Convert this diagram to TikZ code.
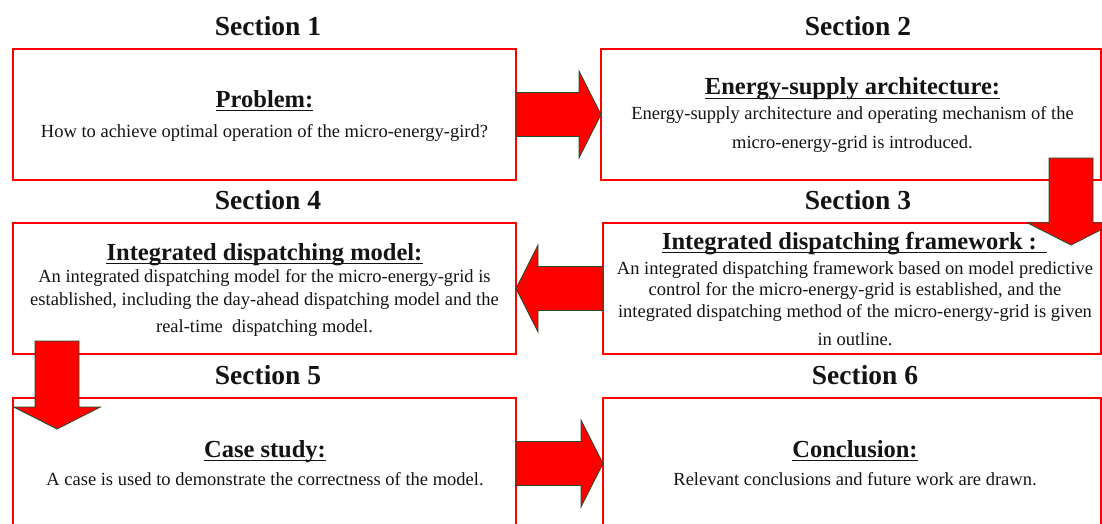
\documentclass[tikz,border=0pt]{standalone}
\usepackage{fontspec}
\setmainfont{Liberation Serif}
\usetikzlibrary{calc}
\definecolor{boxred}{RGB}{255,0,0}
\definecolor{arrowfill}{RGB}{255,0,0}
\definecolor{arrowedge}{RGB}{30,80,45}
\definecolor{txt}{RGB}{20,20,20}
\tikzset{
  secbox/.style={draw=boxred, line width=1.4pt, fill=white, minimum width=#1, minimum height=131pt, anchor=north west, inner sep=0pt, outer sep=0pt},
  sectitle/.style={font=\fontsize{27.5}{30}\selectfont\bfseries, anchor=base, inner sep=0pt, text=txt},
  boxtitle/.style={font=\fontsize{24.5}{27}\selectfont\bfseries, anchor=base, inner sep=0pt, text=txt},
  bodyline/.style={font=\fontsize{18.5}{21}\selectfont, anchor=base, inner sep=0pt, text=txt},
  ulline/.style={line width=1.4pt, draw=txt},
  blockarrow/.style={fill=arrowfill, draw=arrowedge, line width=0.8pt, line join=miter}
}
\newcommand{\blockarr}[2]{%
  \coordinate (tmpC) at ($(#2)!22pt!(#1)$);
  \draw[blockarrow] ($(#1)!22pt!90:(#2)$) -- ($(tmpC)!22pt!-90:(#1)$) -- ($(tmpC)!43.5pt!-90:(#1)$) -- (#2) -- ($(tmpC)!43.5pt!90:(#1)$) -- ($(tmpC)!22pt!90:(#1)$) -- ($(#1)!22pt!-90:(#2)$) -- cycle;}
\newcommand{\ulnode}[1]{\draw[ulline] ([yshift=-3.3pt]#1.base west) -- ([yshift=-3.3pt]#1.base east);}
\begin{document}
\begin{tikzpicture}[x=1pt, y=-1pt]
\useasboundingbox (0,0) rectangle (1102,524);
\clip (0,0) rectangle (1102,524);
\fill[white] (0,0) rectangle (1102,524);

% boxes
\node[secbox=503pt] (b1) at (13,49) {};
\node[secbox=500pt] (b2) at (601,49) {};
\node[secbox=503pt] (b4) at (13,223) {};
\node[secbox=498pt] (b3) at (603,223) {};
\node[secbox=503pt] (b5) at (13,398) {};
\node[secbox=498pt] (b6) at (603,398) {};

% section headings
\node[sectitle] (s1) at (268,36) {Section 1};
\node[sectitle] (s2) at (858,36) {Section 2};
\node[sectitle] (s4) at (268,209) {Section 4};
\node[sectitle] (s3) at (858,209) {Section 3};
\node[sectitle] (s5) at (268,384) {Section 5};
\node[sectitle] (s6) at (865,384) {Section 6};

% box 1
\node[boxtitle] (t1) at (264.5,107) {Problem:};
\ulnode{t1}
\node[bodyline] (l11) at (264.5,137) {How to achieve optimal operation of the micro-energy-gird?};

% box 2
\node[boxtitle] (t2) at (852.5,95) {Energy-supply architecture:};
\ulnode{t2}
\node[bodyline] (l21) at (852.5,120) {Energy-supply architecture and operating mechanism of the};
\node[bodyline] (l22) at (852.5,148) {micro-energy-grid is introduced.};

% box 3
\node[boxtitle] (t3) at (854.5,249) {Integrated dispatching framework\kern6pt:\kern10pt};
\ulnode{t3}
\node[bodyline] (l31) at (855,274) {An integrated dispatching framework based on model predictive};
\node[bodyline] (l32) at (855,295) {control for the micro-energy-grid is established, and the};
\node[bodyline] (l33) at (855,317) {integrated dispatching method of the micro-energy-grid is given};
\node[bodyline] (l34) at (855,345) {in outline.};

% box 4
\node[boxtitle] (t4) at (264.5,260) {Integrated dispatching model:};
\ulnode{t4}
\node[bodyline] (l41) at (264.5,282) {An integrated dispatching model for the micro-energy-grid is};
\node[bodyline] (l42) at (264.5,305) {established, including the day-ahead dispatching model and the};
\node[bodyline] (l43) at (264.5,332) {real-time\ \ dispatching model.};

% box 5
\node[boxtitle] (t5) at (265,457) {Case study:};
\ulnode{t5}
\node[bodyline] (l51) at (265,485) {A case is used to demonstrate the correctness of the model.};

% box 6
\node[boxtitle] (t6) at (855,457) {Conclusion:};
\ulnode{t6}
\node[bodyline] (l61) at (855,485) {Relevant conclusions and future work are drawn.};

% arrow end points
\coordinate (a2s) at ($(b2.south east)+(-30,-22)$);
\coordinate (a2e) at ($(b3.north east)+(-30,22)$);
\coordinate (a4s) at ($(b4.south west)+(44,-13)$);
\coordinate (a4e) at ($(b5.north west)+(44,31)$);

% block arrows
\blockarr{b1.east}{b2.west}
\blockarr{a2s}{a2e}
\blockarr{b3.west}{b4.east}
\blockarr{a4s}{a4e}
\blockarr{b5.east}{b6.west}
\end{tikzpicture}
\end{document}
